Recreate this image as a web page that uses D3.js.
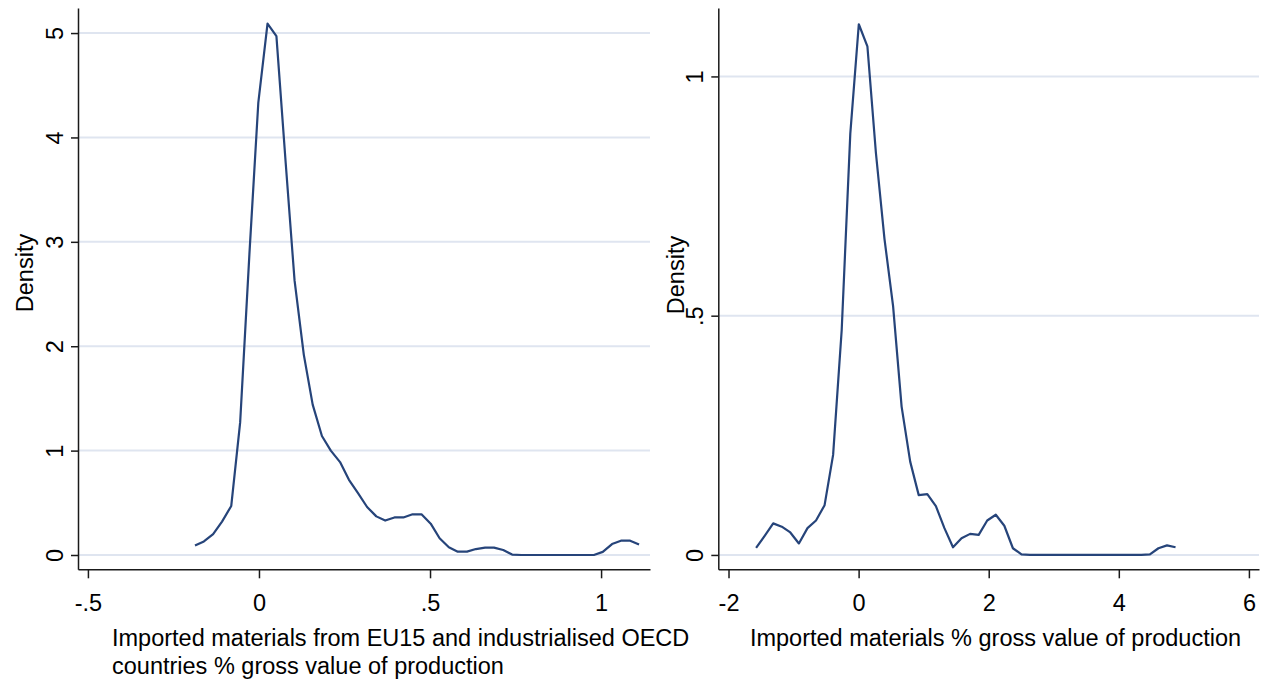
<!DOCTYPE html>
<html>
<head>
<meta charset="utf-8">
<script src="https://cdn.jsdelivr.net/npm/d3@7"></script>
<style>
  body { margin: 0; background: #fff; }
  svg { display: block; font-family: "Liberation Sans", Arial, sans-serif; }
  .grid line { stroke: #dfe5f0; stroke-width: 2; }
  .axis path, .axis line { stroke: #1a1a1a; stroke-width: 1.5; }
  .axis text { font-size: 23.5px; fill: #000; font-family: "Liberation Sans", Arial, sans-serif; }
  .label { font-size: 23.5px; fill: #000; }
  .curve { fill: none; stroke: #26447a; stroke-width: 2.2; stroke-linejoin: round; }
</style>
</head>
<body>
<svg width="1276" height="686"></svg>
<script>
// left panel: imported materials from EU15 + industrialised OECD
const leftX = [
  -0.187, -0.161, -0.134, -0.108, -0.081, -0.055, -0.028, -0.002, 0.025, 0.051,
  0.078, 0.104, 0.131, 0.157, 0.184, 0.210, 0.237, 0.263, 0.290, 0.316,
  0.343, 0.369, 0.396, 0.422, 0.449, 0.475, 0.502, 0.528, 0.555, 0.581,
  0.608, 0.634, 0.661, 0.687, 0.714, 0.740, 0.767, 0.793, 0.820, 0.846,
  0.873, 0.899, 0.926, 0.952, 0.979, 1.005, 1.032, 1.058, 1.085, 1.111
];
const leftDensity = [
  0.09, 0.13, 0.20, 0.32, 0.47, 1.27, 2.88, 4.33, 5.09, 4.97,
  3.76, 2.63, 1.92, 1.44, 1.14, 1.00, 0.89, 0.72, 0.59, 0.46,
  0.37, 0.33, 0.36, 0.36, 0.39, 0.39, 0.30, 0.16, 0.074, 0.032,
  0.032, 0.057, 0.07, 0.07, 0.048, 0.004, 0, 0, 0, 0,
  0, 0, 0, 0, 0, 0.03, 0.105, 0.137, 0.137, 0.10
];
const leftXTicks = [-0.5, 0, 0.5, 1];
const leftXTickLabels = ["-.5", "0", ".5", "1"];
const leftYTicks = [0, 1, 2, 3, 4, 5];
const leftYTickLabels = ["0", "1", "2", "3", "4", "5"];

// right panel: imported materials, all origins
const rightX = [
  -1.576, -1.444, -1.313, -1.181, -1.050, -0.918, -0.786, -0.655, -0.523, -0.392,
  -0.260, -0.128, 0.003, 0.135, 0.266, 0.398, 0.530, 0.661, 0.793, 0.924,
  1.056, 1.188, 1.319, 1.451, 1.582, 1.714, 1.846, 1.977, 2.109, 2.240,
  2.372, 2.504, 2.635, 2.767, 2.898, 3.030, 3.162, 3.293, 3.425, 3.556,
  3.688, 3.820, 3.951, 4.083, 4.214, 4.346, 4.478, 4.609, 4.741, 4.872
];
const rightDensity = [
  0.015, 0.040, 0.066, 0.059, 0.047, 0.024, 0.056, 0.072, 0.104, 0.209,
  0.47, 0.88, 1.109, 1.063, 0.84, 0.66, 0.52, 0.31, 0.195, 0.125,
  0.127, 0.102, 0.056, 0.016, 0.035, 0.044, 0.042, 0.072, 0.084, 0.061,
  0.014, 0.001, 0, 0, 0, 0, 0, 0, 0, 0,
  0, 0, 0, 0, 0, 0, 0.001, 0.014, 0.020, 0.016
];
const rightXTicks = [-2, 0, 2, 4, 6];
const rightXTickLabels = ["-2", "0", "2", "4", "6"];
const rightYTicks = [0, 0.5, 1];
const rightYTickLabels = ["0", ".5", "1"];

const svg = d3.select("svg");

function drawPanel(p) {
  const x = d3.scaleLinear().domain(p.xDomain).range([p.left, p.right]);
  const y = d3.scaleLinear().domain(p.yDomain).range([p.bottom, p.top]);

  svg.append("g").attr("class", "grid")
    .selectAll("line")
    .data(p.yTicks)
    .join("line")
    .attr("x1", p.left)
    .attr("x2", p.right)
    .attr("y1", d => y(d))
    .attr("y2", d => y(d));

  svg.append("path")
    .datum(d3.zip(p.xs, p.ys))
    .attr("class", "curve")
    .attr("d", d3.line().x(d => x(d[0])).y(d => y(d[1])));

  const gx = svg.append("g")
    .attr("class", "axis")
    .attr("transform", `translate(0,${p.bottom})`)
    .call(d3.axisBottom(x)
      .tickValues(p.xTicks)
      .tickFormat((d, i) => p.xLabels[i])
      .tickSize(9)
      .tickSizeOuter(0));
  gx.selectAll("text").attr("dy", null).attr("y", 41.5);

  const gy = svg.append("g")
    .attr("class", "axis")
    .attr("transform", `translate(${p.left},0)`)
    .call(d3.axisLeft(y)
      .tickValues(p.yTicks)
      .tickFormat((d, i) => p.yLabels[i])
      .tickSize(7)
      .tickSizeOuter(0));
  gy.selectAll("text")
    .attr("x", null)
    .attr("dy", null)
    .attr("text-anchor", "middle")
    .attr("transform", "translate(-15,0) rotate(-90)");

  svg.append("text")
    .attr("class", "label")
    .attr("text-anchor", "middle")
    .attr("transform", `translate(${p.yTitleX},${p.yTitleY}) rotate(-90)`)
    .text("Density");

  const title = svg.append("text")
    .attr("class", "label")
    .attr("text-anchor", p.titleAnchor);
  p.titleLines.forEach((t, i) => {
    title.append("tspan")
      .attr("x", p.titleX)
      .attr("y", 645.5 + i * 28.5)
      .text(t);
  });
}

drawPanel({
  xs: leftX, ys: leftDensity,
  xDomain: [-0.529, 1.143], yDomain: [-0.137, 5.24],
  left: 78, right: 650, top: 8, bottom: 569.3,
  xTicks: leftXTicks, xLabels: leftXTickLabels,
  yTicks: leftYTicks, yLabels: leftYTickLabels,
  yTitleX: 33, yTitleY: 273,
  titleX: 112, titleAnchor: "start",
  titleLines: ["Imported materials from EU15 and industrialised OECD",
               "countries % gross value of production"]
});

drawPanel({
  xs: rightX, ys: rightDensity,
  xDomain: [-2.157, 6.155], yDomain: [-0.030, 1.143],
  left: 718.3, right: 1259, top: 8, bottom: 569.3,
  xTicks: rightXTicks, xLabels: rightXTickLabels,
  yTicks: rightYTicks, yLabels: rightYTickLabels,
  yTitleX: 684, yTitleY: 275,
  titleX: 995.5, titleAnchor: "middle",
  titleLines: ["Imported materials % gross value of production"]
});
</script>
</body>
</html>
